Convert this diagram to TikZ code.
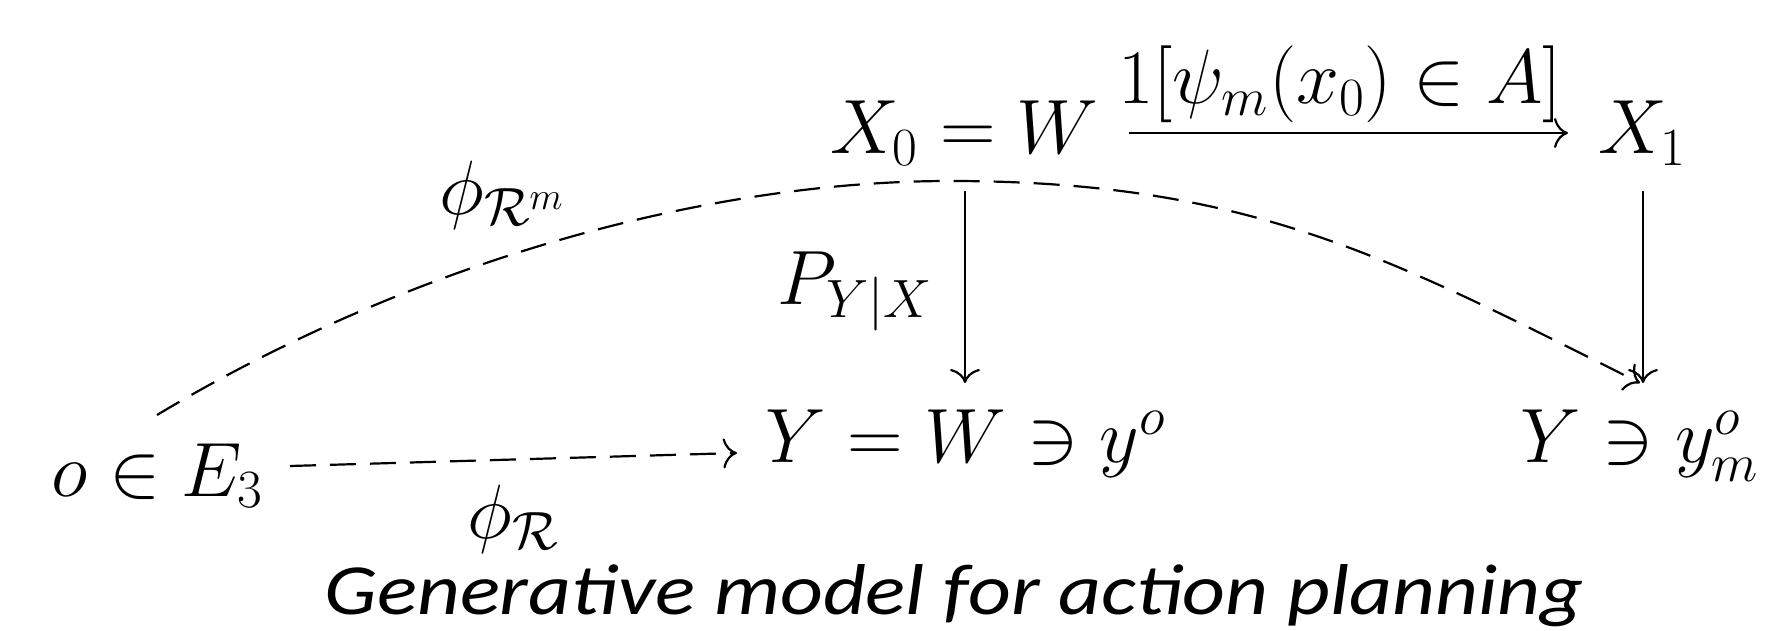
\RequirePackage{fix-cm}
\documentclass[tikz,border=0pt]{standalone}
\usepackage{amsmath,amssymb}
\usepackage{fontspec}
\newfontfamily\capfont{Carlito}
\usetikzlibrary{arrows.meta}
\tikzset{
  lbl/.style={anchor=base west, inner sep=0pt, font=\fontsize{38.5}{42}\selectfont},
  arr/.style={line width=1.1pt, -{To[length=7pt,width=15pt]}},
  darr/.style={arr, dash pattern=on 13pt off 7pt},
}
\begin{document}
\begin{tikzpicture}[x=0.5pt,y=-0.5pt]
\useasboundingbox[fill=white] (0,0) rectangle (1765,631);
% nodes
\node[lbl] (x0w) at (830,154) {$X_0 = W$};
\node[lbl] (x1) at (1598,154) {$X_1$};
\node[lbl] (yw) at (765,462) {$Y = W \ni y^o$};
\node[lbl] (ym) at (1520,462) {$Y \ni y^o_m$};
\node[lbl] (o) at (51,496) {$o \in E_3$};
\node[lbl] (lind) at (1118,104) {$1[\psi_m(x_0) \in A]$};
\node[lbl] (lp) at (777,304) {$P_{Y|X}$};
\node[lbl] (lrm) at (439,214) {$\phi_{\mathcal{R}^m}$};
\node[lbl] (lr) at (467,538) {$\phi_{\mathcal{R}}$};
\node[anchor=base, inner sep=0pt, xscale=1.16, font=\capfont\itshape\fontsize{36}{40}\selectfont] (cap) at (954,614) {Generative model for action planning};
% connector end points
\coordinate (t1) at (1129,133);
\coordinate (t2) at (1568,133);
\coordinate (v1s) at (965,191);
\coordinate (v1e) at (965,383);
\coordinate (v2s) at (1643,191);
\coordinate (v2e) at (1643,383);
\coordinate (h1) at (290,466);
\coordinate (h2) at (737,453);
\coordinate (c1) at (157,415);
\coordinate (cm) at (950,181);
\coordinate (c2) at (1640,383);
% connectors
\draw[arr] (t1) -- (t2);
\draw[arr] (v1s) -- (v1e);
\draw[arr] (v2s) -- (v2e);
\draw[darr] (h1) -- (h2);
\draw[darr] (c1) .. controls (407,265) and (700,181) .. (cm)
                 .. controls (1250,181) and (1390,258) .. (c2);
\end{tikzpicture}
\end{document}
